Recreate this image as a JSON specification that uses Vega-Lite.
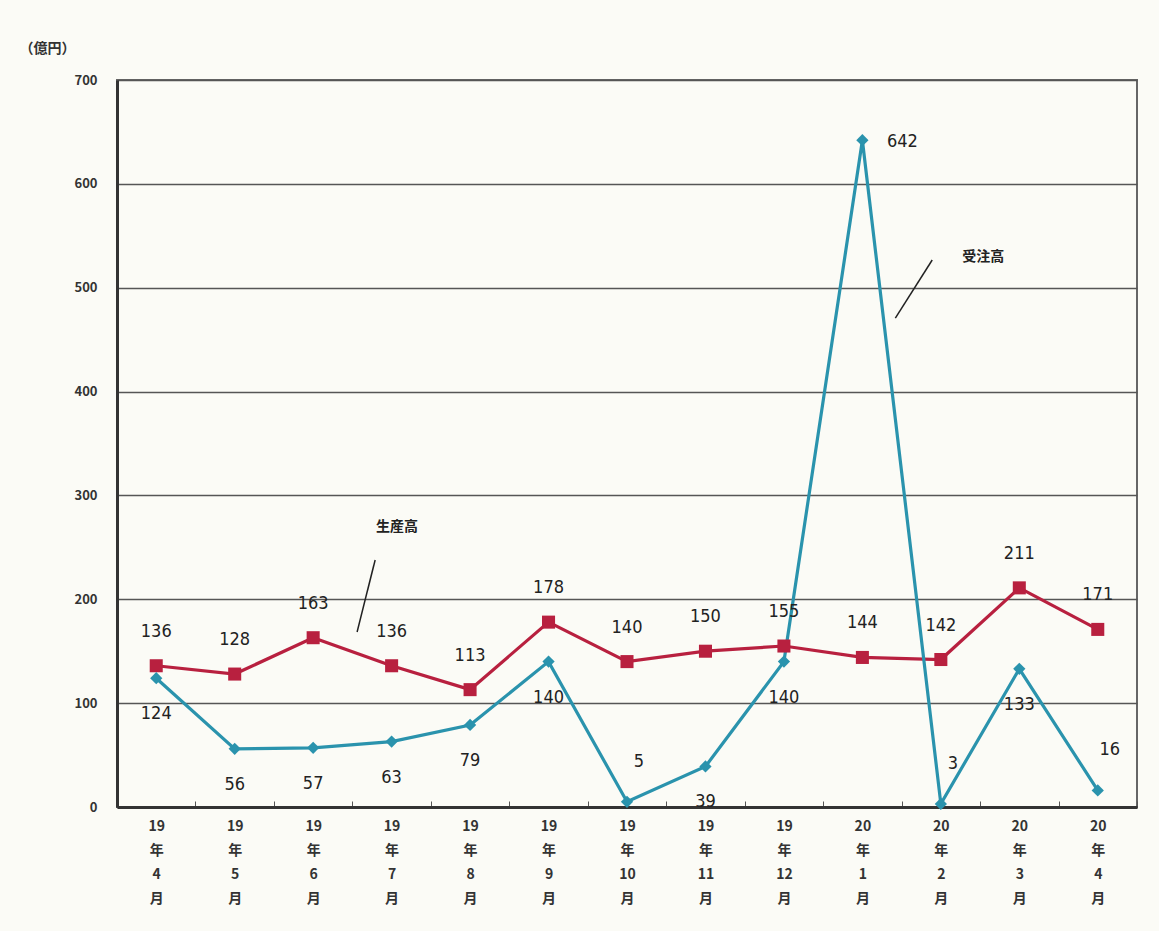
{
  "$schema": "https://vega.github.io/schema/vega-lite/v6.json",
  "width": 1020,
  "height": 727,
  "autosize": {"type": "none"},
  "padding": {"left": 117, "top": 80, "right": 22, "bottom": 124},
  "background": "#fbfbf6",
  "config": {
    "view": {"stroke": "#666666", "strokeWidth": 2, "fill": "#fbfbf6"},
    "font": "Noto Sans CJK JP"
  },
  "datasets": {
    "main": [
      {"month": "19|年|4|月", "series": "生産高", "value": 136},
      {"month": "19|年|5|月", "series": "生産高", "value": 128},
      {"month": "19|年|6|月", "series": "生産高", "value": 163},
      {"month": "19|年|7|月", "series": "生産高", "value": 136},
      {"month": "19|年|8|月", "series": "生産高", "value": 113},
      {"month": "19|年|9|月", "series": "生産高", "value": 178},
      {"month": "19|年|10|月", "series": "生産高", "value": 140},
      {"month": "19|年|11|月", "series": "生産高", "value": 150},
      {"month": "19|年|12|月", "series": "生産高", "value": 155},
      {"month": "20|年|1|月", "series": "生産高", "value": 144},
      {"month": "20|年|2|月", "series": "生産高", "value": 142},
      {"month": "20|年|3|月", "series": "生産高", "value": 211},
      {"month": "20|年|4|月", "series": "生産高", "value": 171},
      {"month": "19|年|4|月", "series": "受注高", "value": 124},
      {"month": "19|年|5|月", "series": "受注高", "value": 56},
      {"month": "19|年|6|月", "series": "受注高", "value": 57},
      {"month": "19|年|7|月", "series": "受注高", "value": 63},
      {"month": "19|年|8|月", "series": "受注高", "value": 79},
      {"month": "19|年|9|月", "series": "受注高", "value": 140},
      {"month": "19|年|10|月", "series": "受注高", "value": 5},
      {"month": "19|年|11|月", "series": "受注高", "value": 39},
      {"month": "19|年|12|月", "series": "受注高", "value": 140},
      {"month": "20|年|1|月", "series": "受注高", "value": 642},
      {"month": "20|年|2|月", "series": "受注高", "value": 3},
      {"month": "20|年|3|月", "series": "受注高", "value": 133},
      {"month": "20|年|4|月", "series": "受注高", "value": 16}
    ],
    "leaders": [
      {"x": 2.79, "y": 237.8, "x2": 2.56, "y2": 168.5},
      {"x": 9.89, "y": 526.7, "x2": 9.42, "y2": 470.8}
    ],
    "notes": [
      {"x": 3.07, "y": 269.6, "label": "生産高"},
      {"x": 10.54, "y": 529.6, "label": "受注高"}
    ]
  },
  "resolve": {"scale": {"x": "independent"}, "axis": {"x": "independent"}},
  "layer": [
    {
      "data": {"name": "main"},
      "encoding": {
        "x": {
          "field": "month",
          "type": "ordinal",
          "scale": {
            "domain": ["19|年|4|月", "19|年|5|月", "19|年|6|月", "19|年|7|月", "19|年|8|月", "19|年|9|月", "19|年|10|月", "19|年|11|月", "19|年|12|月", "20|年|1|月", "20|年|2|月", "20|年|3|月", "20|年|4|月"],
            "paddingInner": 0,
            "paddingOuter": 0
          },
          "axis": {
            "title": null,
            "labelExpr": "split(datum.label, '|')",
            "labelAngle": 0,
            "labelBaseline": "top",
            "labelLineHeight": 24,
            "labelFontSize": 14,
            "labelFontWeight": "bold",
            "labelColor": "#333333",
            "labelPadding": 18,
            "tickBand": "extent",
            "ticks": true,
            "tickSize": -6,
            "tickColor": "#555555",
            "tickWidth": 1,
            "domainColor": "#333333",
            "domainWidth": 3,
            "grid": false
          }
        },
        "y": {
          "field": "value",
          "type": "quantitative",
          "scale": {"domain": [0, 700], "nice": false, "zero": true},
          "axis": {
            "values": [0, 100, 200, 300, 400, 500, 600, 700],
            "title": "（億円）",
            "titleAngle": 0,
            "titleX": -70,
            "titleY": -32,
            "titleAlign": "center",
            "titleBaseline": "middle",
            "titleFontSize": 14,
            "titleFontWeight": "bold",
            "titleColor": "#333333",
            "labelFontSize": 13,
            "labelFontWeight": "bold",
            "labelColor": "#333333",
            "labelPadding": 20,
            "ticks": false,
            "domainColor": "#333333",
            "domainWidth": 3,
            "grid": true,
            "gridColor": "#555555",
            "gridWidth": 1.5
          }
        }
      },
      "layer": [
        {
          "mark": {"type": "line", "strokeWidth": 3.2},
          "encoding": {
            "color": {
              "field": "series",
              "type": "nominal",
              "scale": {"domain": ["生産高", "受注高"], "range": ["#b8203f", "#2a93ad"]},
              "legend": null
            }
          }
        },
        {
          "mark": {"type": "point", "filled": true, "opacity": 1},
          "encoding": {
            "shape": {
              "field": "series",
              "type": "nominal",
              "scale": {"domain": ["生産高", "受注高"], "range": ["square", "diamond"]},
              "legend": null
            },
            "size": {
              "field": "series",
              "type": "nominal",
              "scale": {"domain": ["生産高", "受注高"], "range": [170, 150]},
              "legend": null
            },
            "color": {
              "field": "series",
              "type": "nominal",
              "scale": {"domain": ["生産高", "受注高"], "range": ["#d0183c", "#2296b5"]},
              "legend": null
            }
          }
        },
        {
          "transform": [{"filter": "datum.series === '生産高'"}],
          "mark": {"type": "text", "dy": -34, "fontSize": 18, "font": "DejaVu Sans Condensed", "color": "#222222", "baseline": "middle"},
          "encoding": {"text": {"field": "value", "type": "quantitative"}}
        },
        {
          "transform": [
            {"filter": "datum.series === '受注高'"},
            {"filter": {"not": {"field": "month", "oneOf": ["19|年|10|月", "20|年|1|月", "20|年|2|月", "20|年|4|月"]}}}
          ],
          "mark": {"type": "text", "dy": 36, "fontSize": 18, "font": "DejaVu Sans Condensed", "color": "#222222", "baseline": "middle"},
          "encoding": {"text": {"field": "value", "type": "quantitative"}}
        },
        {
          "transform": [
            {"filter": "datum.series === '受注高'"},
            {"filter": {"field": "month", "oneOf": ["19|年|10|月", "20|年|2|月", "20|年|4|月"]}}
          ],
          "mark": {"type": "text", "dx": 12, "dy": -40, "fontSize": 18, "font": "DejaVu Sans Condensed", "color": "#222222", "baseline": "middle"},
          "encoding": {"text": {"field": "value", "type": "quantitative"}}
        },
        {
          "transform": [
            {"filter": "datum.series === '受注高'"},
            {"filter": {"field": "month", "oneOf": ["20|年|1|月"]}}
          ],
          "mark": {"type": "text", "dx": 40, "dy": 2, "fontSize": 18, "font": "DejaVu Sans Condensed", "color": "#222222", "baseline": "middle"},
          "encoding": {"text": {"field": "value", "type": "quantitative"}}
        }
      ]
    },
    {
      "layer": [
        {
          "data": {"name": "leaders"},
          "mark": {"type": "rule", "strokeWidth": 1.5, "color": "#222222"},
          "encoding": {
            "x": {"field": "x", "type": "quantitative", "scale": {"domain": [-0.5, 12.5], "nice": false, "zero": false}, "axis": null},
            "x2": {"field": "x2"},
            "y": {"field": "y", "type": "quantitative"},
            "y2": {"field": "y2"}
          }
        },
        {
          "data": {"name": "notes"},
          "mark": {"type": "text", "fontSize": 14, "fontWeight": "bold", "color": "#222222", "baseline": "middle"},
          "encoding": {
            "x": {"field": "x", "type": "quantitative", "scale": {"domain": [-0.5, 12.5], "nice": false, "zero": false}, "axis": null},
            "y": {"field": "y", "type": "quantitative"},
            "text": {"field": "label"}
          }
        }
      ]
    }
  ]
}
